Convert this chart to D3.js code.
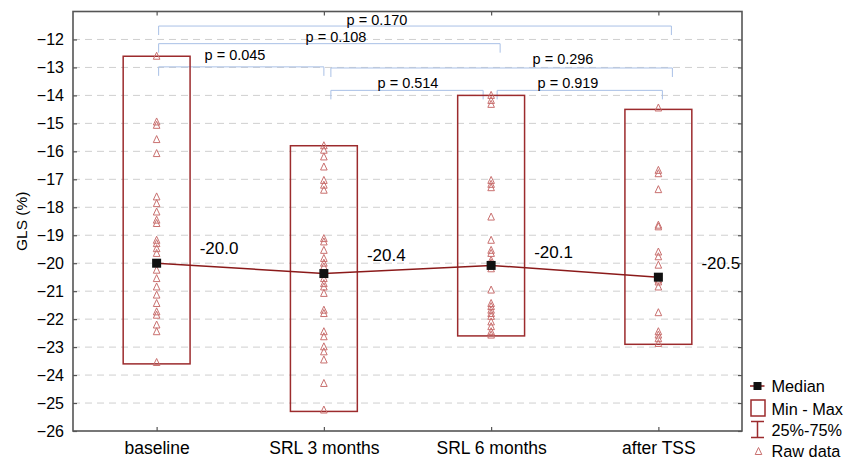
<!DOCTYPE html>
<html>
<head>
<meta charset="utf-8">
<script src="https://cdn.jsdelivr.net/npm/d3@7"></script>
<style>
  html, body { margin: 0; padding: 0; background: #fff; }
  svg { display: block; font-family: "Liberation Sans", Arial, sans-serif; }
</style>
</head>
<body>
<svg id="chart" width="845" height="459"></svg>
<script>
// ---------------- data ----------------
const categories = ["baseline", "SRL 3 months", "SRL 6 months", "after TSS"];
const medians = [-20.0, -20.37, -20.08, -20.5];
const medianLabels = ["-20.0", "-20.4", "-20.1", "-20.5"];
const minValues = [-23.6, -25.3, -22.6, -22.9];
const maxValues = [-12.6, -15.8, -14.0, -14.5];

const rawBaseline = [-12.6, -14.95, -15.07, -15.58, -16.08, -17.63, -17.87, -18.17, -18.46, -18.58,
  -19.18, -19.3, -19.48, -19.65, -20.0, -20.25, -20.55, -20.85, -21.14, -21.44, -21.74, -21.86,
  -22.21, -22.45, -23.55];
const rawSRL3 = [-15.8, -15.96, -16.2, -16.56, -17.04, -17.21, -17.39, -19.12, -19.24, -19.54,
  -19.83, -20.0, -20.13, -20.37, -20.55, -20.73, -20.85, -21.08, -21.68, -21.8, -22.45, -22.63,
  -22.99, -23.17, -23.46, -24.3, -25.25];
const rawSRL6 = [-14.0, -14.18, -14.32, -17.04, -17.18, -17.3, -18.35, -19.18, -19.54, -19.65,
  -19.9, -20.0, -20.2, -20.96, -21.44, -21.55, -21.68, -21.8, -21.9, -22.1, -22.27, -22.45, -22.57];
const rawTSS = [-14.45, -16.68, -16.8, -17.37, -18.64, -18.7, -19.6, -19.77, -20.07, -20.6,
  -20.67, -20.85, -21.77, -22.45, -22.57, -22.7, -22.87];
const rawData = [rawBaseline, rawSRL3, rawSRL6, rawTSS];

const yTicks = [-26, -25, -24, -23, -22, -21, -20, -19, -18, -17, -16, -15, -14, -13, -12];
const pLabels = ["p = 0.170", "p = 0.108", "p = 0.045", "p = 0.296", "p = 0.514", "p = 0.919"];
const pPairs = [[0, 3], [0, 2], [0, 1], [1, 3], [1, 2], [2, 3]];
const legendLabels = ["Median", "Min - Max", "25%-75%", "Raw data"];

// ---------------- layout (not data) ----------------
const plot = { left: 73, right: 742, top: 11.5, bottom: 431 };
// bracket line level (axis units), end offsets (px), label centre x (px), label dy (px)
const bracketLayout = [
  { level: -11.52, dx0: 2, dx1: 13, tx: 377, ty: -6 },
  { level: -12.15, dx0: 2, dx1: 9, tx: 336, ty: -7 },
  { level: -12.98, dx0: 2, dx1: 0, tx: 235, ty: -12 },
  { level: -13.02, dx0: 7, dx1: 14, tx: 563, ty: -8.5 },
  { level: -13.82, dx0: 7, dx1: -8, tx: 408, ty: -7.5 },
  { level: -13.82, dx0: 6, dx1: 4, tx: 568, ty: -7 }
];
const medianLabelDy = [-15, -18, -13, -14];

const colors = {
  frame: "#555",
  grid: "#cfcfcf",
  box: "#9c2b2d",
  line: "#8b1a1a",
  raw: "#c9706f",
  bracket: "#a9c0e6",
  text: "#000"
};

// ---------------- scales ----------------
const svg = d3.select("#chart");
const x = d3.scalePoint().domain(categories).range([plot.left, plot.right]).padding(0.5);
const y = d3.scaleLinear().domain([-26, -11]).range([plot.bottom, plot.top]);
const boxW = (plot.right - plot.left) / categories.length * 0.4;

// grid
svg.append("g").selectAll("line")
  .data(yTicks.filter(v => v > -26))
  .join("line")
  .attr("x1", plot.left).attr("x2", plot.right)
  .attr("y1", d => y(d)).attr("y2", d => y(d))
  .attr("stroke", colors.grid).attr("stroke-width", 1)
  .attr("stroke-dasharray", "7,5");

// brackets
const br = svg.append("g");
pPairs.forEach((p, i) => {
  const L = bracketLayout[i];
  const x0 = x(categories[p[0]]) + L.dx0;
  const x1 = x(categories[p[1]]) + L.dx1;
  const yy = y(L.level);
  br.append("path")
    .attr("d", `M${x0},${yy + 9}V${yy}H${x1}V${yy + 9}`)
    .attr("fill", "none").attr("stroke", colors.bracket).attr("stroke-width", 1);
  br.append("text")
    .attr("x", L.tx).attr("y", yy + L.ty)
    .attr("text-anchor", "middle").attr("dominant-baseline", "central")
    .attr("font-size", 14.5).attr("fill", colors.text)
    .text(pLabels[i]);
});

// min-max boxes
svg.append("g").selectAll("rect")
  .data(categories)
  .join("rect")
  .attr("x", d => x(d) - boxW / 2)
  .attr("width", boxW)
  .attr("y", (d, i) => y(maxValues[i]))
  .attr("height", (d, i) => y(minValues[i]) - y(maxValues[i]))
  .attr("fill", "none").attr("stroke", colors.box).attr("stroke-width", 1.5);

// raw data triangles
const tri = "M0,-4L3.3,3L-3.3,3Z";
const rawG = svg.append("g");
rawData.forEach((arr, i) => {
  rawG.selectAll(null)
    .data(arr)
    .join("path")
    .attr("d", tri)
    .attr("transform", d => `translate(${x(categories[i])},${y(d)})`)
    .attr("fill", "none").attr("stroke", colors.raw).attr("stroke-width", 1);
});

// median line
svg.append("path")
  .datum(medians)
  .attr("d", d3.line().x((d, i) => x(categories[i])).y(d => y(d)))
  .attr("fill", "none").attr("stroke", colors.line).attr("stroke-width", 1.5);

// median squares
svg.append("g").selectAll("rect")
  .data(medians)
  .join("rect")
  .attr("x", (d, i) => x(categories[i]) - 4.5)
  .attr("y", d => y(d) - 4.5)
  .attr("width", 9).attr("height", 9)
  .attr("fill", "#111");

// median labels
svg.append("g").selectAll("text")
  .data(medians)
  .join("text")
  .attr("x", (d, i) => x(categories[i]) + 43)
  .attr("y", (d, i) => y(d) + medianLabelDy[i])
  .attr("dominant-baseline", "central")
  .attr("font-size", 17).attr("fill", colors.text)
  .text((d, i) => medianLabels[i]);

// axes
const yAxisL = d3.axisLeft(y).tickValues(yTicks).tickSizeInner(-4).tickSizeOuter(0).tickPadding(9).tickFormat(d3.format("d"));
const gL = svg.append("g").attr("transform", `translate(${plot.left},0)`).call(yAxisL);
gL.selectAll("text").attr("font-size", 16).attr("fill", colors.text).style("font-family", "'Liberation Sans', Arial, sans-serif");

const yAxisR = d3.axisRight(y).tickValues(yTicks).tickSizeInner(-4).tickSizeOuter(0).tickFormat("");
svg.append("g").attr("transform", `translate(${plot.right},0)`).call(yAxisR);

const xAxisT = d3.axisTop(x).tickSizeInner(-4).tickSizeOuter(0).tickFormat("");
svg.append("g").attr("transform", `translate(0,${plot.top})`).call(xAxisT);

const xAxisB = d3.axisBottom(x).tickSizeInner(-4).tickSizeOuter(0).tickPadding(11);
const gB = svg.append("g").attr("transform", `translate(0,${plot.bottom})`).call(xAxisB);
gB.selectAll("text").attr("font-size", 17.5).attr("fill", colors.text).style("font-family", "'Liberation Sans', Arial, sans-serif");

svg.selectAll(".domain").remove();
svg.selectAll(".tick line").attr("stroke", colors.frame).attr("stroke-width", 1.2);

// frame
svg.append("rect")
  .attr("x", plot.left).attr("y", plot.top)
  .attr("width", plot.right - plot.left).attr("height", plot.bottom - plot.top)
  .attr("fill", "none").attr("stroke", colors.frame).attr("stroke-width", 1.6);

// y title
svg.append("text")
  .attr("transform", `translate(21,${(plot.top + plot.bottom) / 2}) rotate(-90)`)
  .attr("text-anchor", "middle").attr("dominant-baseline", "central")
  .attr("font-size", 15.5).attr("fill", colors.text)
  .text("GLS (%)");

// legend
const lg = svg.append("g");
const lx = 757.5, ly = [386, 408.5, 429.5, 450.5];
lg.append("line").attr("x1", lx - 7.5).attr("x2", lx + 7).attr("y1", ly[0]).attr("y2", ly[0])
  .attr("stroke", colors.line).attr("stroke-width", 1.5);
lg.append("rect").attr("x", lx - 4).attr("y", ly[0] - 4).attr("width", 8).attr("height", 8).attr("fill", "#111");
lg.append("rect").attr("x", lx - 6.5).attr("y", ly[1] - 8.5).attr("width", 14).attr("height", 16)
  .attr("fill", "none").attr("stroke", colors.box).attr("stroke-width", 1.5);
lg.append("path").attr("d", `M${lx - 6.5},${ly[2] - 8}H${lx + 6.5}M${lx},${ly[2] - 8}V${ly[2] + 8}M${lx - 6.5},${ly[2] + 8}H${lx + 6.5}`)
  .attr("fill", "none").attr("stroke", colors.box).attr("stroke-width", 1.5);
lg.append("path").attr("d", tri).attr("transform", `translate(${lx + 1},${ly[3] + 1})`)
  .attr("fill", "none").attr("stroke", colors.raw).attr("stroke-width", 1);
lg.selectAll("text")
  .data(legendLabels)
  .join("text")
  .attr("x", 771.5)
  .attr("y", (d, i) => ly[i])
  .attr("dominant-baseline", "central")
  .attr("font-size", 16.3).attr("fill", colors.text)
  .text(d => d);
</script>
</body>
</html>
